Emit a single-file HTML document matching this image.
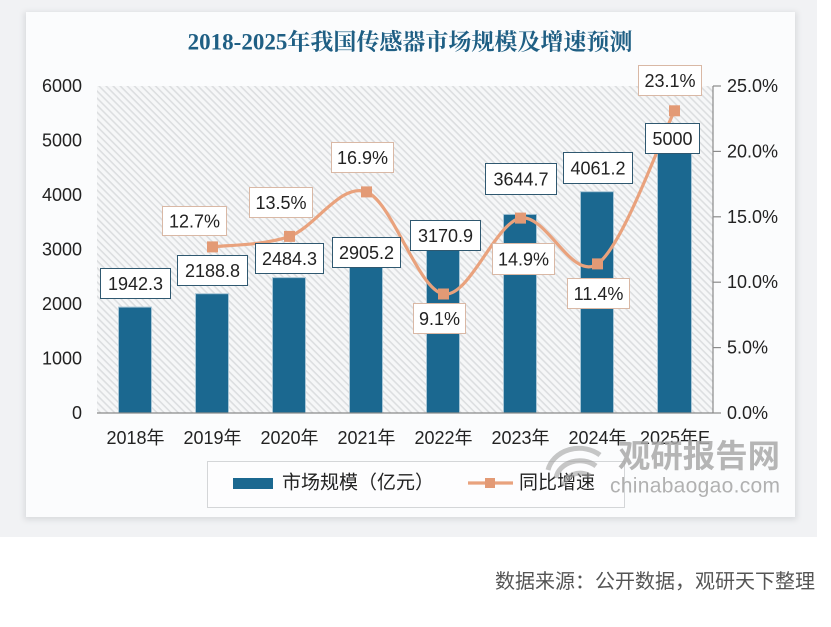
<!DOCTYPE html>
<html><head><meta charset="utf-8"><style>
html,body{margin:0;padding:0;background:#fff;}
svg{display:block;}
.s{font-family:"Liberation Sans","Noto Sans CJK SC",sans-serif;}
</style></head><body>
<svg width="831" height="627" viewBox="0 0 831 627" xmlns="http://www.w3.org/2000/svg" class="s">
<defs>
<pattern id="hatch" width="5" height="5" patternUnits="userSpaceOnUse" patternTransform="rotate(45)">
<rect width="5" height="5" fill="#f6f7f8"/>
<rect width="5" height="1.6" fill="#dcdee0"/>
</pattern>
<filter id="sh" x="-10%" y="-10%" width="120%" height="120%">
<feGaussianBlur stdDeviation="3"/>
</filter>
</defs>
<rect x="0" y="0" width="817" height="537" fill="#f1f2f4"/>
<rect x="24" y="12" width="773" height="508" fill="#d9dbde" filter="url(#sh)"/>
<rect x="26" y="12" width="769" height="505" fill="#fbfcfd"/>
<text x="410" y="42" text-anchor="middle" dominant-baseline="central" font-family="'Liberation Serif','Noto Serif CJK SC',serif" font-size="23" font-weight="700" fill="#1f5f84">2018-2025年我国传感器市场规模及增速预测</text>
<rect x="97" y="86" width="616" height="327" fill="url(#hatch)"/>
<g font-size="18" fill="#222" text-anchor="end" dominant-baseline="central">
<text x="82" y="86">6000</text><text x="82" y="140.5">5000</text><text x="82" y="195">4000</text><text x="82" y="249.5">3000</text><text x="82" y="304">2000</text><text x="82" y="358.5">1000</text><text x="82" y="413">0</text>
</g>
<g font-size="18" fill="#222" dominant-baseline="central">
<text x="727" y="86">25.0%</text><text x="727" y="151.4">20.0%</text><text x="727" y="216.8">15.0%</text><text x="727" y="282.2">10.0%</text><text x="727" y="347.6">5.0%</text><text x="727" y="413">0.0%</text>
</g>
<line x1="713" y1="86" x2="713" y2="413" stroke="#8a8a8a" stroke-width="1.2"/>
<g stroke="#8a8a8a" stroke-width="1.2">
<line x1="713" y1="86" x2="721" y2="86"/><line x1="713" y1="151.4" x2="721" y2="151.4"/><line x1="713" y1="216.8" x2="721" y2="216.8"/><line x1="713" y1="282.2" x2="721" y2="282.2"/><line x1="713" y1="347.6" x2="721" y2="347.6"/><line x1="713" y1="413" x2="721" y2="413"/>
</g>
<g fill="#1b6890" stroke="#a9c6d6" stroke-width="1">
<rect x="118.5" y="307.1" width="33" height="105.9"/>
<rect x="195.5" y="293.7" width="33" height="119.3"/>
<rect x="272.5" y="277.6" width="33" height="135.4"/>
<rect x="349.5" y="254.7" width="33" height="158.3"/>
<rect x="426.5" y="240.2" width="33" height="172.8"/>
<rect x="503.5" y="214.4" width="33" height="198.6"/>
<rect x="580.5" y="191.7" width="33" height="221.3"/>
<rect x="657.5" y="140.5" width="34" height="272.5"/>
</g>
<line x1="97" y1="413" x2="713" y2="413" stroke="#8a8a8a" stroke-width="1.2"/>
<path d="M212.5,246.9 C225.3,245.15 263.83,245.57 289.5,236.4 C315.17,227.23 340.83,182.3 366.5,191.9 C392.17,201.5 417.83,289.63 443.5,294.0 C469.17,298.37 494.83,223.12 520.5,218.1 C546.17,213.08 571.83,281.78 597.5,263.9 C623.17,246.02 661.67,136.32 674.5,110.8" fill="none" stroke="#e9a27d" stroke-width="3.2"/>
<g fill="#e39a75">
<rect x="207" y="241.4" width="11" height="11"/>
<rect x="284" y="230.9" width="11" height="11"/>
<rect x="361" y="186.4" width="11" height="11"/>
<rect x="438" y="288.5" width="11" height="11"/>
<rect x="515" y="212.6" width="11" height="11"/>
<rect x="592" y="258.4" width="11" height="11"/>
<rect x="669" y="105.3" width="11" height="11"/>
</g>
<g fill="#fff" stroke="#2f5870" stroke-width="1">
<rect x="100.5" y="268.5" width="70" height="30"/>
<rect x="177.5" y="255.5" width="70" height="30"/>
<rect x="255.5" y="243.5" width="68" height="30"/>
<rect x="332.5" y="237.5" width="68" height="30"/>
<rect x="410.5" y="220.5" width="70" height="30"/>
<rect x="485.5" y="163.5" width="71" height="31"/>
<rect x="563.5" y="152.5" width="69" height="31"/>
<rect x="645.5" y="123.5" width="54" height="30"/>
</g>
<g fill="#fff" stroke="#d9b8a5" stroke-width="1">
<rect x="162.5" y="206.5" width="64" height="29"/>
<rect x="249.5" y="187.5" width="63" height="30"/>
<rect x="331.5" y="142.5" width="62" height="30"/>
<rect x="413.5" y="303.5" width="52" height="30"/>
<rect x="492.5" y="243.5" width="62" height="31"/>
<rect x="567.5" y="278.5" width="62" height="30"/>
<rect x="638.5" y="65.5" width="63" height="30"/>
</g>
<g font-size="18" fill="#222" text-anchor="middle" dominant-baseline="central">
<text x="135.5" y="284">1942.3</text>
<text x="212.5" y="271">2188.8</text>
<text x="289.5" y="259">2484.3</text>
<text x="366.5" y="253">2905.2</text>
<text x="445.5" y="236">3170.9</text>
<text x="521" y="179.5">3644.7</text>
<text x="598" y="168.5">4061.2</text>
<text x="672.5" y="139">5000</text>
<text x="194.5" y="221.5">12.7%</text>
<text x="281" y="203">13.5%</text>
<text x="362.5" y="158">16.9%</text>
<text x="439.5" y="319">9.1%</text>
<text x="523.5" y="259.5">14.9%</text>
<text x="598.5" y="294">11.4%</text>
<text x="670" y="81">23.1%</text>
</g>
<g font-size="18" fill="#222" text-anchor="middle" dominant-baseline="central">
<text x="135.5" y="438">2018年</text><text x="212.5" y="438">2019年</text><text x="289.5" y="438">2020年</text><text x="366.5" y="438">2021年</text><text x="443.5" y="438">2022年</text><text x="520.5" y="438">2023年</text><text x="597.5" y="438">2024年</text><text x="675" y="438">2025年E</text>
</g>
<rect x="207.5" y="461.5" width="417" height="46" fill="#fdfdfe" stroke="#d4d6d8" stroke-width="1"/>
<rect x="233" y="478" width="40" height="11" fill="#1b6890"/>
<text x="282" y="483" font-size="19" fill="#222" dominant-baseline="central">市场规模（亿元）</text>
<line x1="468" y1="483" x2="513" y2="483" stroke="#e9a27d" stroke-width="3.2"/>
<rect x="485" y="478" width="10" height="10" fill="#e39a75"/>
<text x="519" y="483" font-size="19" fill="#222" dominant-baseline="central">同比增速</text>
<g opacity="0.55" fill="none" stroke="#9a9a9a" stroke-width="5">
<path d="M600,455 A32,28 0 0 0 548,470"/>
<path d="M596,466 A24,20 0 0 0 556,478"/>
<path d="M590,476 A16,13 0 0 0 564,486"/>
</g>
<text x="618" y="456" font-size="32" font-weight="700" fill="#a9a9a9" opacity="0.85" dominant-baseline="central" textLength="162" lengthAdjust="spacingAndGlyphs">观研报告网</text>
<text x="610" y="486" font-size="21" fill="#a9a9a9" opacity="0.9" dominant-baseline="central" textLength="170" lengthAdjust="spacing">chinabaogao.com</text>
<text x="815" y="582" font-size="20" fill="#555" text-anchor="end" dominant-baseline="central">数据来源：公开数据，观研天下整理</text>
</svg>
</body></html>
